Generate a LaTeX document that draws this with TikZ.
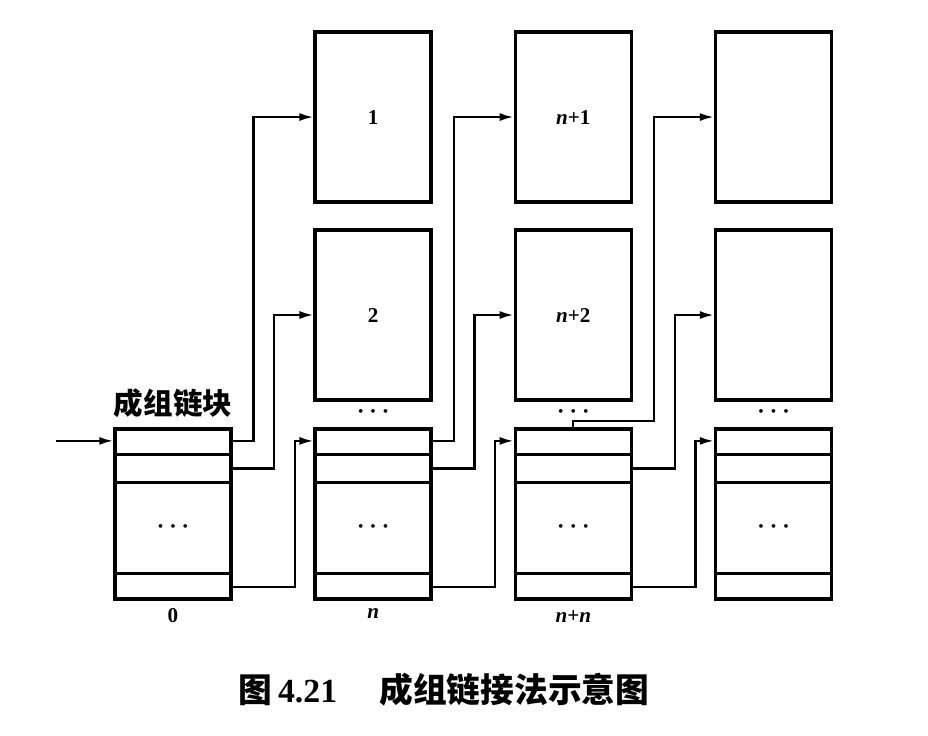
\documentclass[tikz,border=0pt]{standalone}
\usepackage{fontspec}
\setmainfont{Liberation Serif}
\newfontfamily\cjk{Noto Sans CJK SC}
\usetikzlibrary{arrows.meta, positioning, calc}

\newcommand{\threedots}{{\fontsize{11}{13}\selectfont\textbullet\hspace{5pt}\textbullet\hspace{5pt}\textbullet}}

\begin{document}
\begin{tikzpicture}[
    node distance=0.615cm and 2.02cm,
    grp/.style={rectangle, draw, line width=2.4pt, minimum width=2.9cm, minimum height=4.25cm, inner sep=0pt},
    blk/.style={rectangle, draw, line width=2.4pt, minimum width=2.9cm, minimum height=4.25cm, inner sep=0pt, font=\fontsize{15}{18}\selectfont\bfseries},
    row/.style={line width=1.9pt},
    lbl/.style={font=\fontsize{15}{18}\selectfont\bfseries, inner sep=1pt},
    dots/.style={inner sep=0pt},
    arr/.style={-{Latex[length=3.5mm, width=2mm]}, line width=1.6pt}
]
    \useasboundingbox (0,0) rectangle (23.2,-18.4);

    % Nodes
    \node[grp] (g0) at (4.325,-12.85) {};
    \node[grp, right=of g0] (g1) {};
    \node[grp, right=of g1] (g2) {};
    \node[grp, right=of g2] (g3) {};

    \node[blk, above=0.64cm of g1] (b2) {2};
    \node[blk, above=of b2] (b1) {1};
    \node[blk, above=0.64cm of g2] (b4) {\textit{n}+2};
    \node[blk, above=of b4] (b3) {\textit{n}+1};
    \node[blk, above=0.64cm of g3] (b6) {};
    \node[blk, above=of b6] (b5) {};

    \node[dots, below=0.2cm of b2] (d1) {\threedots};
    \node[dots, below=0.2cm of b4] (d2) {\threedots};
    \node[dots, below=0.2cm of b6] (d3) {\threedots};

    \node[font=\cjk\bfseries\fontsize{21}{24}\selectfont, above=0.12cm of g0] (title) {成组链块};
    \node[lbl, below=0.15cm of g0] (l0) {0};
    \node[lbl, below=0.15cm of g1] (l1) {\textit{n}};
    \node[lbl, below=0.2cm of g2] (l2) {\textit{n}+\textit{n}};

    \node[font=\bfseries\fontsize{24}{28}\selectfont] (cap) at (11.1,-17.25) {{\cjk 图}\,4.21\quad\ {\cjk 成组链接法示意图}};

    % rows of the group blocks
    \foreach \g in {g0,g1,g2,g3} {
        \draw[row] ($(\g.north west)+(0,-0.675)$) -- ($(\g.north east)+(0,-0.675)$);
        \draw[row] ($(\g.north west)+(0,-1.375)$) -- ($(\g.north east)+(0,-1.375)$);
        \draw[row] ($(\g.south west)+(0,0.675)$) -- ($(\g.south east)+(0,0.675)$);
        \node[dots] (\g-dots) at ($(\g.center)+(0,-0.35)$) {\threedots};
        \coordinate (\g-in) at ($(\g.north west)+(0,-0.34)$);
        \coordinate (\g-a) at ($(\g.north east)+(0,-0.34)$);
        \coordinate (\g-b) at ($(\g.north east)+(0,-1.03)$);
        \coordinate (\g-z) at ($(\g.south east)+(0,0.34)$);
    }
    \coordinate (start) at ($(g0-in)+(-1.425,0)$);
    \coordinate (turn) at ($(g2.north east)+(0.52,0.15)$);

    % Arrows
    \draw[arr] (start) -- (g0-in);
    \draw[arr] (g0-a) -- ++(0.52,0) |- (b1.west);
    \draw[arr] (g0-b) -- ++(1.04,0) |- (b2.west);
    \draw[arr] (g0-z) -- ++(1.56,0) |- (g1-in);
    \draw[arr] (g1-a) -- ++(0.52,0) |- (b3.west);
    \draw[arr] (g1-b) -- ++(1.04,0) |- (b4.west);
    \draw[arr] (g1-z) -- ++(1.56,0) |- (g2-in);
    \draw[arr] (g2.north) |- (turn) |- (b5.west);
    \draw[arr] (g2-b) -- ++(1.04,0) |- (b6.west);
    \draw[arr] (g2-z) -- ++(1.56,0) |- (g3-in);
\end{tikzpicture}
\end{document}
